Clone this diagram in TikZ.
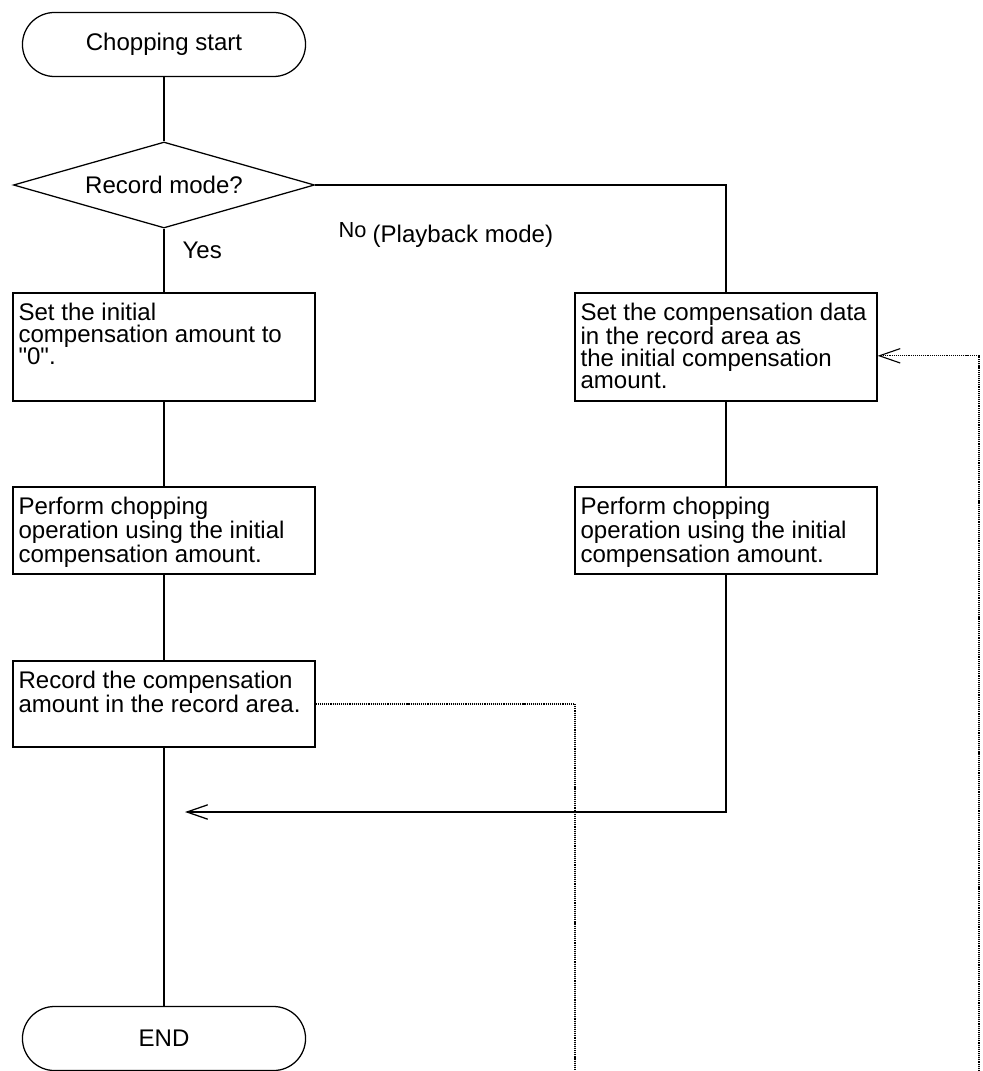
\documentclass[tikz,border=0pt]{standalone}
\usepackage{fontspec}
\setmainfont{Liberation Sans}[Ligatures=TeXOff]
\usetikzlibrary{arrows.meta,shapes.geometric}

\begin{document}
\begin{tikzpicture}[x=0.025cm,y=-0.025cm,>={Straight Barb[length=5.2mm,width=3.6mm]},line width=0.9pt,
  every node/.style={font=\fontsize{17.1}{15.8}\selectfont},
  term/.style={draw,rectangle,rounded corners=0.8cm,minimum width=7.075cm,minimum height=1.6cm,inner sep=0pt},
  decide/.style={draw,diamond,aspect=3.5,minimum width=7.525cm,minimum height=2.15cm,inner sep=0pt},
  proc/.style={draw,rectangle,minimum width=7.55cm,inner sep=0pt},
  txt/.style={anchor=north west,align=left,inner xsep=0.14cm,inner ysep=0.25cm},
  link/.style={line width=0.8pt,dash pattern=on 0.8pt off 0.7pt}]
\useasboundingbox (0,0) rectangle (983,1071);
% record branch
\node[term] (start) at (164,44.5) {Chopping start};
\node[decide] (rec) at (164,185) {Record mode?};
\node[proc,minimum height=2.7cm] (b1) at (164,347) {};
\node[txt] (b1t) at (b1.north west) {Set the initial\\compensation amount to\\"0".};
\node[proc,minimum height=2.175cm] (b2) at (164,530.5) {};
\node[txt] (b2t) at (b2.north west) {Perform chopping\\operation using the initial\\compensation amount.};
\node[proc,minimum height=2.15cm] (b3) at (164,704) {};
\node[txt] (b3t) at (b3.north west) {Record the compensation\\amount in the record area.};
\node[term] (end) at (164,1038.5) {END};
% playback branch
\node[proc,minimum height=2.7cm] (r1) at (726,347) {};
\node[txt] (r1t) at (r1.north west) {Set the compensation data\\in the record area as\\the initial compensation\\amount.};
\node[proc,minimum height=2.175cm] (r2) at (726,530.5) {};
\node[txt] (r2t) at (r2.north west) {Perform chopping\\operation using the initial\\compensation amount.};
\node[anchor=base west,inner sep=0pt] (yes) at (182,258) {Yes};
\node[anchor=base west,inner sep=0pt,font=\fontsize{15.5}{15}\selectfont] (no) at (338,237) {No};
\node[anchor=base west,inner sep=0pt] (mode) at (372,242) {(Playback mode)};
\coordinate (join) at (185,812);
\coordinate (out1) at (575,1071); \coordinate (out2) at (979,1071);
\draw (start) -- (rec); \draw (rec) -- (b1); \draw (b1) -- (b2); \draw (b2) -- (b3); \draw (b3) -- (end);
\draw (rec.east) -| (r1.north); \draw (r1) -- (r2);
\draw[->] (r2.south) |- (join);
% record area data path
\draw[link] (b3.east) -| (out1);
\draw[link,->] (out2) |- ([yshift=-0.22cm]r1.east);
\end{tikzpicture}
\end{document}
